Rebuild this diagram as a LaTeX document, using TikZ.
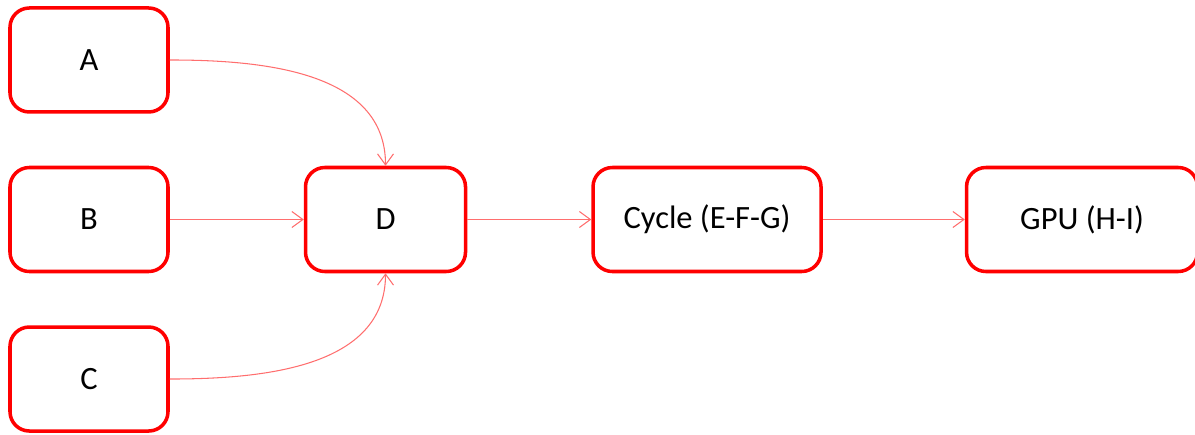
\documentclass[tikz,border=0pt]{standalone}
\usepackage{fontspec}
\setmainfont{Carlito}
\definecolor{flowRed}{RGB}{255, 0, 0}
\definecolor{flowLine}{RGB}{255, 110, 110}
\usepackage{tikz}
\usetikzlibrary{
  arrows.meta,
  positioning
}
\tikzset{
  % Kutu stilleri
  stagebox/.style={
    draw=flowRed,
    line width=2pt,
    rounded corners=11pt,
    minimum height=2.08cm,
    minimum width=3.16cm,
    text centered,
    font=\fontsize{18.5}{20}\selectfont,
    fill=white
  },
  widebox/.style={stagebox, minimum width=4.56cm},
  % Ok stilleri
  flowarrow/.style={-{Straight Barb[length=2.2mm, width=3.2mm]}, line width=0.6pt, color=flowLine},
}
\begin{document}
\begin{tikzpicture}
        \useasboundingbox (-1.78,-4.29) rectangle (22.12,4.39);
        \node[stagebox] (b) at (0,0) {B};
        \node[stagebox, above=1.04cm of b] (a) {A};
        \node[stagebox, below=1.04cm of b] (c) {C};
        \node[stagebox, minimum width=3.2cm, right=2.68cm of b] (d) {D};
        \node[widebox, right=2.48cm of d] (cycle) {Cycle (E-F-G)};
        \node[widebox, minimum width=4.62cm, right=2.84cm of cycle] (gpu) {GPU (H-I)};

        \draw[flowarrow] (a.east) to[out=0, in=90] (d.north);
        \draw[flowarrow] (b) -- (d);
        \draw[flowarrow] (c.east) to[out=0, in=-90] (d.south);
        \draw[flowarrow] (d) -- (cycle);
        \draw[flowarrow] (cycle) -- (gpu);
      \end{tikzpicture}
\end{document}
